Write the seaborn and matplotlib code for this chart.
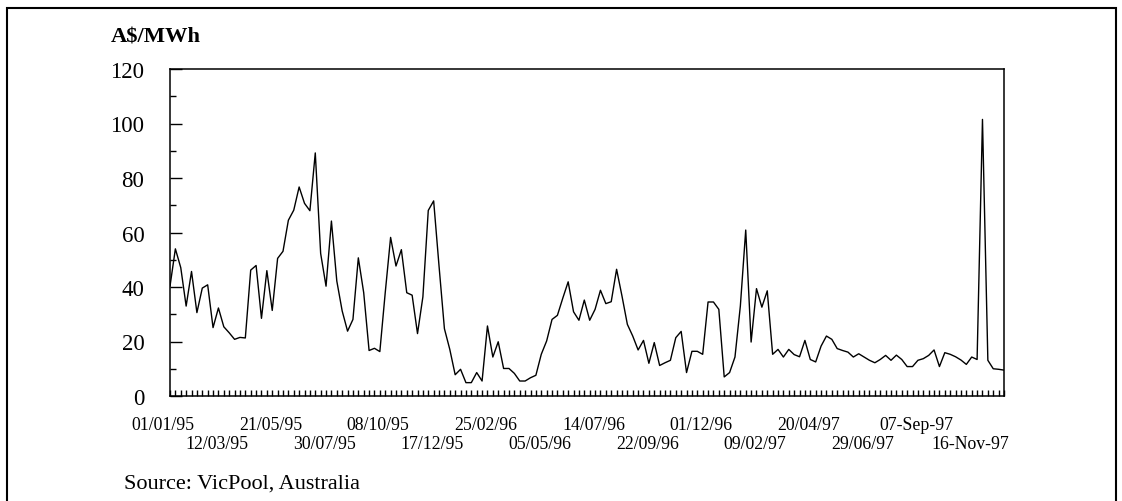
import pandas as pd
import matplotlib.pyplot as plt
import matplotlib.transforms as mtransforms
from matplotlib.patches import Rectangle
import seaborn as sns

# weekly pool price, A$/MWh, from week of 01/01/95
prices = [
    40.3, 54.0, 47.1, 33.0, 45.7, 30.6, 39.6, 40.8, 25.1, 32.3,
    25.4, 23.2, 20.8, 21.5, 21.3, 46.2, 47.9, 28.5, 46.0, 31.4,
    50.5, 53.1, 64.5, 68.2, 76.7, 70.7, 68.0, 89.2, 52.3, 40.3,
    64.2, 42.2, 31.2, 23.8, 28.1, 50.7, 37.9, 16.7, 17.5, 16.3,
    37.9, 58.2, 47.7, 53.7, 37.9, 37.0, 22.9, 36.4, 68.1, 71.6,
    47.7, 24.7, 17.1, 7.8, 9.8, 4.9, 4.9, 8.6, 5.5, 25.7,
    14.3, 19.9, 10.1, 10.1, 8.3, 5.5, 5.5, 6.7, 7.6, 15.3,
    20.2, 28.1, 29.6, 35.9, 41.9, 30.9, 27.8, 35.2, 27.8, 31.8,
    38.8, 33.9, 34.6, 46.5, 36.7, 26.3, 22.0, 16.9, 20.4, 12.0,
    19.6, 11.2, 12.2, 13.1, 21.4, 23.7, 8.6, 16.4, 16.4, 15.3,
    34.5, 34.5, 31.8, 7.0, 8.6, 14.3, 33.0, 60.9, 19.8, 39.4,
    32.6, 38.6, 15.3, 17.1, 14.3, 17.1, 15.2, 14.4, 20.4, 13.4,
    12.5, 18.3, 22.0, 20.8, 17.4, 16.7, 16.1, 14.3, 15.5, 14.3,
    13.1, 12.2, 13.4, 14.9, 13.1, 15.0, 13.4, 10.8, 10.8, 13.1,
    13.7, 14.9, 16.9, 10.8, 15.9, 15.3, 14.4, 13.2, 11.6, 14.3,
    13.4, 101.5, 13.1, 10.0, 9.8, 9.5,
]
weeks = list(range(len(prices)))

# one date label every 10 weeks
tick_labels = [
    "01/01/95", "12/03/95", "21/05/95", "30/07/95", "08/10/95", "17/12/95",
    "25/02/96", "05/05/96", "14/07/96", "22/09/96", "01/12/96", "09/02/97",
    "20/04/97", "29/06/97", "07-Sep-97", "16-Nov-97",
]
label_step = 10
y_ticks = [0, 20, 40, 60, 80, 100, 120]

df = pd.DataFrame({"week": weeks, "price": prices})

sns.set_theme(style="white")
plt.rcParams["font.family"] = ["Liberation Serif", "DejaVu Serif"]
plt.rcParams["text.color"] = "black"

fig = plt.figure(figsize=(11.22, 5.02), dpi=100)
ax = fig.add_axes([170 / 1122, 105 / 502, 834 / 1122, 327 / 502])

sns.lineplot(data=df, x="week", y="price", color="black", linewidth=1.0, ax=ax)

ax.set_xlim(0, len(prices) - 1)
ax.set_ylim(0, 120)
ax.set_xlabel("")
ax.set_ylabel("")

# y axis: long ticks on the 20s, short ones on the 10s, all inside
ax.set_yticks(y_ticks)
ax.set_yticks([10, 30, 50, 70, 90, 110], minor=True)
ax.tick_params(axis="y", which="major", direction="in", length=8.6, width=1,
               pad=18.5, labelsize=16.5, colors="black", left=True)
ax.tick_params(axis="y", which="minor", direction="in", length=4.3, width=1,
               colors="black", left=True)

# x axis: a tick every week, staggered date labels every 10 weeks
ax.set_xticks(weeks[::label_step])
ax.set_xticklabels(tick_labels)
ax.set_xticks(weeks, minor=True)
ax.tick_params(axis="x", which="both", direction="in", length=4.6, width=1.0,
               bottom=True, colors="black")
ax.tick_params(axis="x", which="major", pad=14.5, labelsize=12.8)

# labels sit a little left of their week; every second one drops a row
for i, lab in enumerate(ax.get_xticklabels()):
    dy = 0 if i % 2 == 0 else -19 / 100
    shift = mtransforms.ScaledTranslation(-7 / 100, dy, fig.dpi_scale_trans)
    lab.set_transform(lab.get_transform() + shift)

for sp in ax.spines.values():
    sp.set_color("black")
    sp.set_linewidth(1.1)
ax.grid(False)

fig.text(111 / 1122, 1 - 38 / 502, "A\\$/MWh", ha="left", va="center",
         fontsize=16.2, fontweight="bold", color="black")
fig.text(124 / 1122, 1 - 489 / 502, "Source: VicPool, Australia", ha="left",
         va="baseline", fontsize=16, color="black")

fig.patches.append(Rectangle((7 / 1122, -0.05), 1109 / 1122, 1.05 - 9 / 502,
                             transform=fig.transFigure, fill=False,
                             edgecolor="black", linewidth=1.5))

fig.savefig("out.png", dpi=100)
plt.close(fig)
